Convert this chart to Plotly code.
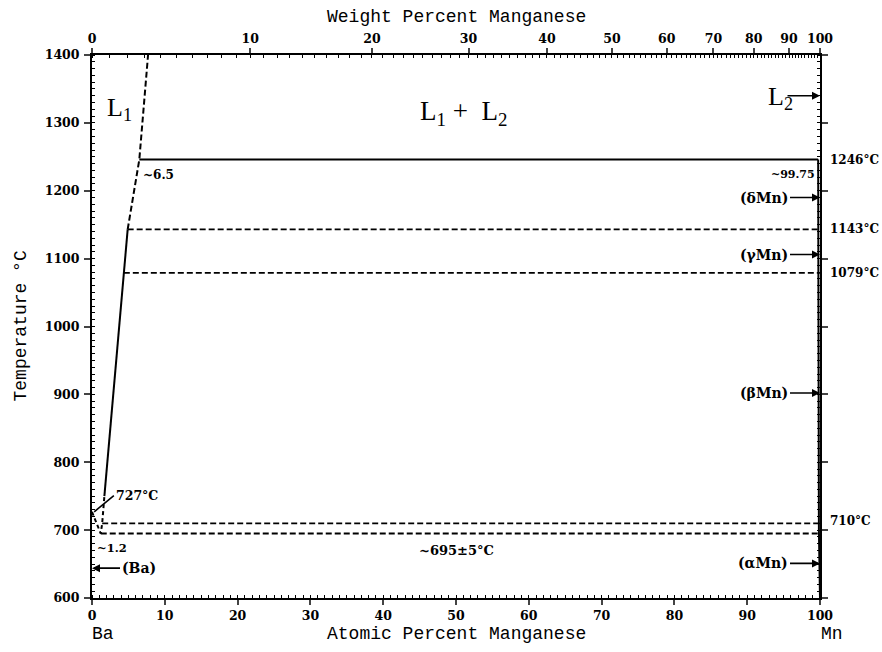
import plotly.graph_objects as go

# Ba-Mn phase diagram: composition in at.% Mn, temperature in degC
M_MN = 54.938
M_BA = 137.327

# liquidus of L1 (Ba-rich liquid)
liq_upper_at = [4.9, 6.5, 7.7]
liq_upper_t = [1143, 1246, 1400]
liq_mid_at = [1.7, 4.9]
liq_mid_t = [750, 1143]
liq_low_at = [0.0, 1.2, 1.4, 1.7]
liq_low_t = [727, 695, 710, 750]

# monotectic at 1246 degC
mono_at = [6.5, 99.75]
mono_t = [1246, 1246]

# Mn-side boundary
mn_side_at = [99.75, 99.85, 100.0]
mn_side_t = [1246, 700, 600]

# dashed invariant isotherms (start composition, temperature)
iso_start = [4.9, 4.37, 1.4, 1.2]
iso_temp = [1143, 1079, 710, 695]

# axis ticks
wt_ticks = [0, 10, 20, 30, 40, 50, 60, 70, 80, 90, 100]
at_ticks = [0, 10, 20, 30, 40, 50, 60, 70, 80, 90, 100]
t_ticks = [600, 700, 800, 900, 1000, 1100, 1200, 1300, 1400]


def wt_to_at(w):
    a = w / M_MN
    b = (100 - w) / M_BA
    return 100 * a / (a + b)


LINE = "black"
SERIF = "Liberation Serif"
LABEL = "DejaVu Serif"
MONO = "Liberation Mono"
TICKFONT = dict(family=LABEL, size=12.5, color=LINE, weight="bold")

fig = go.Figure()

fig.add_trace(go.Scatter(x=liq_upper_at, y=liq_upper_t, mode="lines",
                         line=dict(color=LINE, width=2, dash="6px,3px")))
fig.add_trace(go.Scatter(x=liq_mid_at, y=liq_mid_t, mode="lines",
                         line=dict(color=LINE, width=2)))
fig.add_trace(go.Scatter(x=liq_low_at, y=liq_low_t, mode="lines",
                         line=dict(color=LINE, width=2, dash="4px,3px")))
fig.add_trace(go.Scatter(x=mono_at, y=mono_t, mode="lines",
                         line=dict(color=LINE, width=2)))
fig.add_trace(go.Scatter(x=mn_side_at, y=mn_side_t, mode="lines",
                         line=dict(color=LINE, width=2)))
for x0, t in zip(iso_start, iso_temp):
    fig.add_trace(go.Scatter(x=[x0, 100], y=[t, t], mode="lines",
                             line=dict(color=LINE, width=1.8, dash="6px,3px")))

# invisible trace to activate the weight-percent axis
fig.add_trace(go.Scatter(x=[0, 100], y=[600, 600], xaxis="x2", mode="lines",
                         line=dict(width=0), hoverinfo="skip"))

wt_minor = [wt_to_at(w) for w in range(0, 101)]

fig.update_layout(
    width=882, height=652,
    margin=dict(l=92, r=62, t=55, b=54),
    paper_bgcolor="white", plot_bgcolor="white",
    showlegend=False,
    xaxis=dict(range=[0, 100], tickvals=at_ticks, ticks="outside", ticklen=5,
               tickwidth=1.5, showline=True, linecolor=LINE, linewidth=2,
               showgrid=False, zeroline=False, tickfont=TICKFONT,
               minor=dict(dtick=1, ticks="inside", ticklen=3, tickcolor=LINE,
                          tickwidth=1.2, showgrid=False)),
    xaxis2=dict(range=[0, 100], overlaying="x", side="top",
                tickvals=[wt_to_at(w) for w in wt_ticks],
                ticktext=[str(w) for w in wt_ticks], ticks="outside", ticklen=5,
                tickwidth=1.5, showline=True, linecolor=LINE, linewidth=2,
                showgrid=False, zeroline=False, tickfont=TICKFONT,
                minor=dict(tickmode="array", tickvals=wt_minor, ticks="inside",
                           ticklen=3, tickcolor=LINE, tickwidth=1.2, showgrid=False)),
    yaxis=dict(range=[600, 1400], tickvals=t_ticks, ticks="outside", ticklen=6,
               tickwidth=1.5, showline=True, linecolor=LINE, linewidth=2,
               mirror="ticks", showgrid=False, zeroline=False,
               ticklabelstandoff=2, tickfont=TICKFONT,
               minor=dict(dtick=10, ticks="inside", ticklen=3, tickcolor=LINE,
                          tickwidth=1.2, showgrid=False)),
)

ann = []


def txt(x, y, s, size=12, xanchor="center", yanchor="middle", family=LABEL,
        bold=True, xref="x", yref="y", xshift=0, yshift=0):
    ann.append(dict(x=x, y=y, xref=xref, yref=yref, text=s, showarrow=False,
                    xanchor=xanchor, yanchor=yanchor, xshift=xshift, yshift=yshift,
                    font=dict(family=family, size=size, color=LINE,
                              weight="bold" if bold else "normal")))


def arrow_left_of_axis(t, s, length=30):
    ann.append(dict(x=100, y=t, xref="x", yref="y", ax=-length, ay=0,
                    text=s, showarrow=True, arrowhead=2, arrowsize=1,
                    arrowwidth=1.6, arrowcolor=LINE, xanchor="right",
                    font=dict(family=LABEL, size=14, color=LINE, weight="bold")))


# phase-field labels
txt(3.8, 1320, "L<sub>1</sub>", size=26, family=SERIF, bold=False)
txt(51, 1315, "L<sub>1</sub> +  L<sub>2</sub>", size=27, family=SERIF, bold=False)
txt(94.6, 1336, "L<sub>2</sub>", size=26, family=SERIF, bold=False)
ann.append(dict(x=100, y=1340, xref="x", yref="y", ax=-34, ay=0,
                text="", showarrow=True, arrowhead=2, arrowsize=1,
                arrowwidth=1.6, arrowcolor=LINE))

# allotropes of Mn
arrow_left_of_axis(1190, "(δMn)")
arrow_left_of_axis(1106, "(γMn)")
arrow_left_of_axis(902, "(βMn)")
arrow_left_of_axis(651, "(αMn)")

# (Ba) on the left axis
ann.append(dict(x=0, y=644, xref="x", yref="y", ax=28, ay=0,
                text="(Ba)", showarrow=True, arrowhead=2, arrowsize=1,
                arrowwidth=1.6, arrowcolor=LINE, xanchor="left",
                font=dict(family=LABEL, size=14, color=LINE, weight="bold")))

# temperatures to the right of the Mn axis
for t, s in [(1246, "1246°C"), (1143, "1143°C"), (1079, "1079°C"), (710, "710°C")]:
    txt(1.0, t, s, size=12, xanchor="left", yanchor="middle", xref="paper",
        xshift=8, yshift=2 if t == 710 else 0)

# compositions
txt(6.7, 1236, "~6.5", size=12, xanchor="left", yanchor="top")
txt(99.6, 1237, "~99.75", size=11, xanchor="right", yanchor="top")
txt(0.4, 687, "~1.2", size=11.5, xanchor="left", yanchor="top")
txt(50, 688, "~695±5°C", size=13, xanchor="center", yanchor="top", yshift=-3)

# Ba melting point with leader line
ann.append(dict(x=0.3, y=727, xref="x", yref="y", ax=3.0, ay=751,
                axref="x", ayref="y", text="727°C", showarrow=True,
                arrowhead=0, arrowwidth=1.6, arrowcolor=LINE, xanchor="left",
                font=dict(family=LABEL, size=12.5, color=LINE, weight="bold")))

# axis titles
txt(0.5, 1.0, "Weight Percent Manganese", size=18, family=MONO, bold=False,
    xref="paper", yref="paper", yanchor="bottom", yshift=26)
txt(0.5, 0.0, "Atomic Percent Manganese", size=18, family=MONO, bold=False,
    xref="paper", yref="paper", yanchor="top", yshift=-24)
ann.append(dict(x=0, y=0.5, xref="paper", yref="paper", text="Temperature °C",
                showarrow=False, textangle=-90, xshift=-84,
                font=dict(family=MONO, size=18, color=LINE)))
txt(0.015, 0.0, "Ba", size=18, family=MONO, bold=False, xref="paper",
    yref="paper", yanchor="top", yshift=-24)
txt(1.017, 0.0, "Mn", size=18, family=MONO, bold=False, xref="paper",
    yref="paper", yanchor="top", yshift=-24)

fig.update_layout(annotations=ann)
fig.write_html("out.html")
